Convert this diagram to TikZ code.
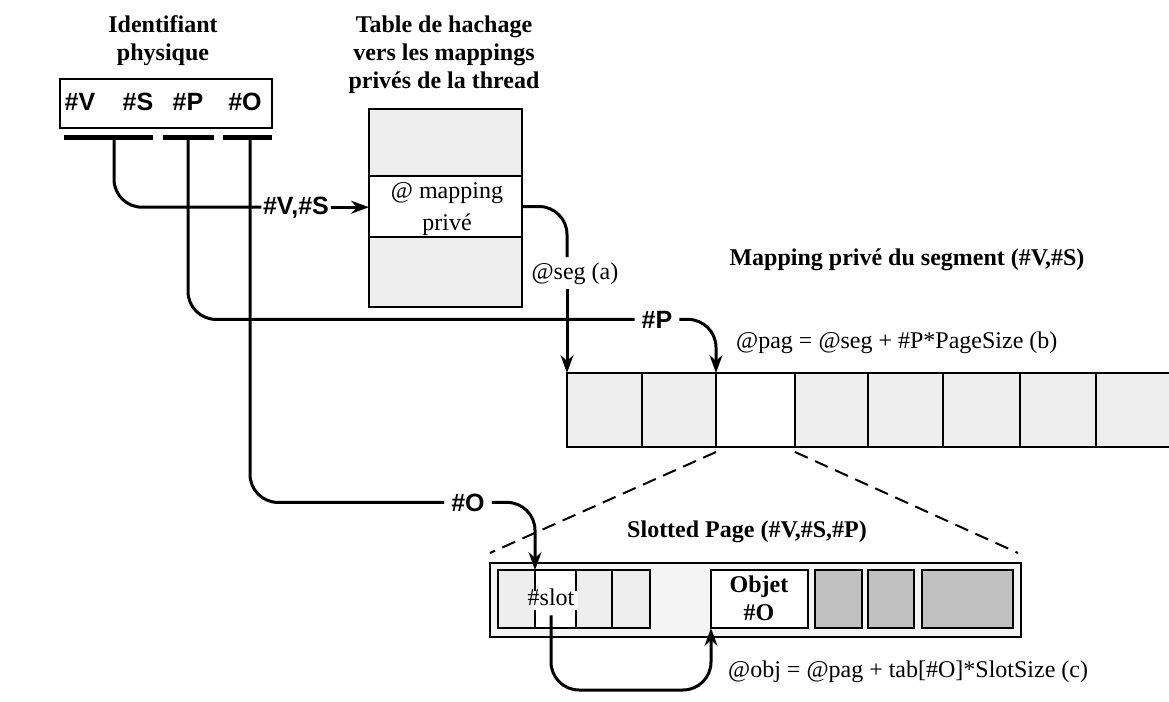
\documentclass[tikz,border=0pt]{standalone}
\usepackage{fontspec}
\setmainfont{Liberation Serif}
\setsansfont{Liberation Sans}
\usetikzlibrary{arrows.meta,calc}
\definecolor{cellgray}{HTML}{EEEEEE}
\definecolor{pagegray}{HTML}{F4F4F4}
\definecolor{darkcell}{HTML}{C0C0C0}
\begin{document}
\begin{tikzpicture}[x=1pt,y=-1pt,
  serif/.style={font=\fontsize{24}{28}\selectfont, inner sep=0pt},
  title/.style={font=\bfseries\fontsize{24}{28}\selectfont, align=center, inner sep=0pt},
  idtxt/.style={font=\sffamily\bfseries\fontsize{25}{30}\selectfont, inner sep=0pt, anchor=base},
  lab/.style={font=\sffamily\bfseries\fontsize{25}{30}\selectfont, inner sep=7pt, anchor=base},
  cell/.style={draw, line width=2.8pt, fill=cellgray, inner sep=0pt, outer sep=0pt, anchor=north west},
  bar/.style={fill=black, inner sep=0pt, outer sep=0pt, minimum height=5pt},
  conn/.style={line width=3pt, rounded corners=28pt},
  tip/.style={-{Stealth[length=18pt,width=13pt,inset=6pt]}},
  zoomline/.style={line width=2pt, dash pattern=on 14pt off 8pt},
]
\clip (0,0) rectangle (1169,701);
\fill[white] (0,0) rectangle (1169,701);

% titles
\node[title, anchor=north] (tid) at (163,15) {Identifiant\\physique};
\node[title, anchor=north] (tht) at (444,16) {Table de hachage\\vers les mappings\\privés de la thread};

% identifier box
\node[draw, line width=2.2pt, fill=white, minimum width=212pt, minimum height=49pt, anchor=north west, inner sep=0pt] (idbox) at (59,78) {};
\node[idtxt] (tV) at (80,110) {\#V};
\node[idtxt] (tS) at (138,110) {\#S};
\node[idtxt] (tP) at (188,110) {\#P};
\node[idtxt] (tO) at (245,110) {\#O};
\node[bar, minimum width=89pt] (barVS) at (108.5,137) {};
\node[bar, minimum width=51pt] (barP) at (188.5,137) {};
\node[bar, minimum width=49pt] (barO) at (247.5,137) {};
\coordinate (oS) at (114,137);
\coordinate (oP) at (188,137);
\coordinate (oO) at (250,137);

% hash table
\node[cell, minimum width=153pt, minimum height=67pt] (ht1) at (369,109) {};
\node[cell, fill=white, minimum width=153pt, minimum height=61pt] (ht2) at (369,176) {};
\node[cell, minimum width=153pt, minimum height=70pt] (ht3) at (369,237) {};
\node[serif, anchor=base] (map1) at (447,198) {@ mapping};
\node[serif, anchor=base] (map2) at (447,230) {privé};

% segment mapping
\node[title, anchor=base] (tmap) at (907,265) {Mapping privé du segment (\#V,\#S)};
\foreach \i/\x/\w/\c in {1/567/75/cellgray, 2/642/74/cellgray, 3/716/79/white, 4/795/73/cellgray, 5/868/75/cellgray, 6/943/77/cellgray, 7/1020/76/cellgray, 8/1096/80/cellgray}
  \node[cell, fill=\c, minimum width=\w pt, minimum height=74pt] (seg\i) at (\x,373) {};

% slotted page
\node[title, anchor=base] (tslot) at (747,537) {Slotted Page (\#V,\#S,\#P)};
\node[cell, fill=pagegray, line width=2.5pt, minimum width=531pt, minimum height=74pt] (slotted) at (490,563) {};
\node[cell, line width=2.5pt, minimum width=37pt, minimum height=58pt] (s1) at (498,570) {};
\node[cell, line width=2.5pt, fill=white, minimum width=41pt, minimum height=58pt] (s2) at (535,570) {};
\node[cell, line width=2.5pt, minimum width=36pt, minimum height=58pt] (s3) at (576,570) {};
\node[cell, line width=2.5pt, minimum width=38pt, minimum height=58pt] (s4) at (612,570) {};
\node[cell, line width=2.5pt, fill=white, minimum width=97pt, minimum height=58pt] (obj) at (711,570) {};
\node[cell, line width=2.5pt, fill=darkcell, minimum width=47pt, minimum height=58pt] (d1) at (815,570) {};
\node[cell, line width=2.5pt, fill=darkcell, minimum width=46pt, minimum height=58pt] (d2) at (868,570) {};
\node[cell, line width=2.5pt, fill=darkcell, minimum width=91pt, minimum height=58pt] (d3) at (922,570) {};
\node[title, anchor=base] (objt1) at (759,592) {Objet};
\node[title, anchor=base] (objt2) at (759,620) {\#O};
\node[fill=white, inner sep=0pt, minimum width=45pt, minimum height=19pt] (slotmask) at (555.5,600.5) {};
\node[serif, anchor=base] (tsl) at (551,605) {\#slot};

% labels
\node[lab, inner sep=1.5pt] (lVS) at (296,214) {\#V,\#S};
\node[serif, anchor=base, inner sep=5pt] (lseg) at (575,279) {@seg (a)};
\node[lab] (lP) at (657,328) {\#P};
\node[lab] (lO) at (468,511) {\#O};
\node[serif, anchor=base west] (fpag) at (736,348) {@pag = @seg + \#P*PageSize (b)};
\node[serif, anchor=base west] (fobj) at (728,677) {@obj = @pag + tab[\#O]*SlotSize (c)};

% connectors
\draw[conn] (oS) |- (lVS.west);
\draw[conn, tip] (lVS.east) -- (lVS.east -| ht2.west);
\draw[conn] (oP) |- (lP.west);
\draw[conn] (oO) |- (lO.west);
\draw[conn] (ht2.east) -| (lseg.north -| seg1.north west);
\draw[conn, tip] (lseg.south -| seg1.north west) -- (seg1.north west);
\draw[conn, tip] (lP.east) -| (seg3.north west);
\draw[conn, tip] (lO.east) -| (s2.north west);
\draw[conn, tip] ($(tsl.south)+(0,10)$) |- ($(obj.south west)+(0,62)$) -- (obj.south west);

% zoom lines
\draw[zoomline] ($(seg3.south west)+(0,5)$) -- ($(slotted.north west)+(0,-10)$);
\draw[zoomline] ($(seg4.south west)+(0,5)$) -- ($(slotted.north east)+(-3,-10)$);
\end{tikzpicture}
\end{document}
